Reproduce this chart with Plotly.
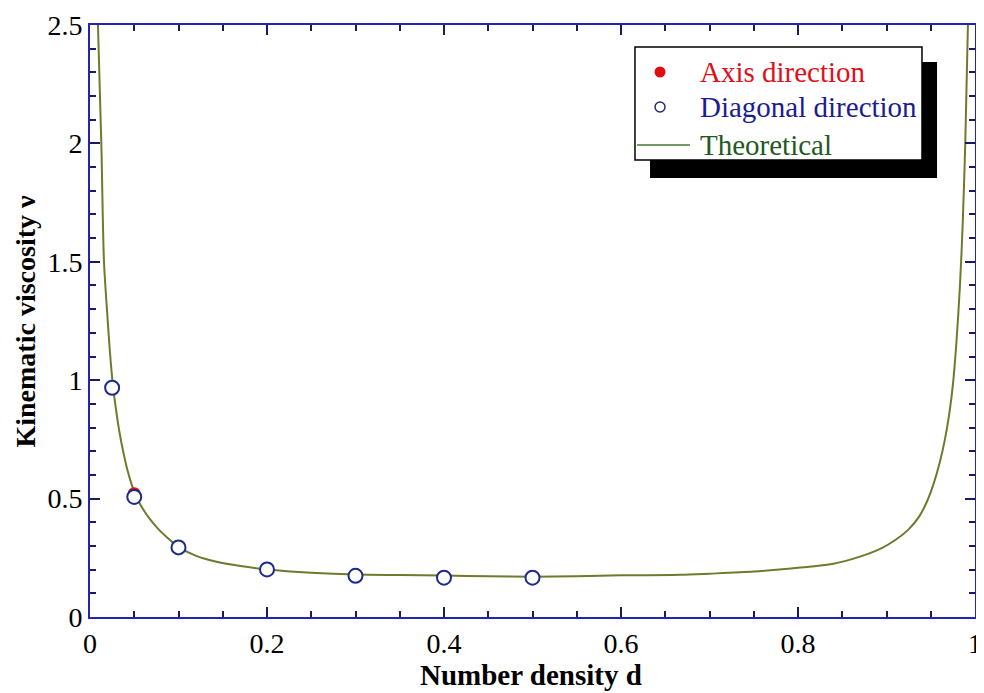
import plotly.graph_objects as go

# --- data ---
density_pts = [0.025, 0.05, 0.1, 0.2, 0.3, 0.4, 0.5]
axis_visc = [0.968, 0.521, 0.294, 0.201, 0.174, 0.166, 0.166]
diag_visc = [0.968, 0.507, 0.294, 0.201, 0.174, 0.166, 0.166]

theory_d = [0.009, 0.0128, 0.0158, 0.0195, 0.0225, 0.026, 0.030, 0.0336, 0.038,
            0.042, 0.047, 0.052, 0.060, 0.068, 0.077, 0.088, 0.100, 0.12, 0.143,
            0.17, 0.20, 0.25, 0.30, 0.35, 0.40, 0.45, 0.50, 0.55, 0.60, 0.667,
            0.70, 0.75, 0.80, 0.84, 0.87, 0.894, 0.91, 0.925, 0.937, 0.946,
            0.953, 0.960, 0.966, 0.971, 0.975, 0.979, 0.983, 0.986, 0.989, 0.992]
theory_v = [2.5, 2.0, 1.5, 1.28, 1.12, 0.975, 0.86, 0.774, 0.69,
            0.625, 0.56, 0.51, 0.455, 0.412, 0.372, 0.333, 0.296, 0.258, 0.233,
            0.215, 0.201, 0.187, 0.179, 0.177, 0.175, 0.172, 0.170, 0.172, 0.176, 0.178,
            0.183, 0.192, 0.208, 0.225, 0.255, 0.290, 0.325, 0.37, 0.425, 0.49,
            0.56, 0.65, 0.75, 0.86, 0.98, 1.16, 1.40, 1.65, 2.0, 2.5]

x_ticks = [0, 0.2, 0.4, 0.6, 0.8, 1]
x_tick_text = ["0", "0.2", "0.4", "0.6", "0.8", "1"]
y_ticks = [0, 0.5, 1, 1.5, 2, 2.5]
y_tick_text = ["0", "0.5", "1", "1.5", "2", "2.5"]

legend_labels = ["Axis direction", "Diagonal direction", "Theoretical"]
legend_colors = ["#e0101a", "#1c1c90", "#1f5a1f"]

AXIS_BLUE = "#2424b4"
LINE_COLOR = "#6f7a2e"
RED = "#e01010"
NAVY = "#1c2a8c"
TICK = "#1a1a60"
SERIF = "Liberation Serif"

fig = go.Figure()
fig.add_trace(go.Scatter(
    x=theory_d, y=theory_v, mode="lines",
    line=dict(color=LINE_COLOR, width=2, shape="spline", smoothing=0.8),
    name=legend_labels[2], showlegend=False))
fig.add_trace(go.Scatter(
    x=density_pts, y=axis_visc, mode="markers",
    marker=dict(color=RED, size=13, line=dict(color=RED, width=0)),
    name=legend_labels[0], showlegend=False))
fig.add_trace(go.Scatter(
    x=density_pts, y=diag_visc, mode="markers",
    marker=dict(color="white", size=14, line=dict(color=NAVY, width=2)),
    name=legend_labels[1], showlegend=False))

axis_common = dict(
    showline=True, linecolor=AXIS_BLUE, linewidth=2, mirror="allticks",
    ticks="inside", ticklen=10, tickwidth=2, tickcolor=TICK,
    showgrid=False, zeroline=False, automargin=False,
    tickfont=dict(family=SERIF, size=28, color="black"),
)

fig.update_xaxes(
    range=[0, 1], tickvals=x_ticks, ticktext=x_tick_text,
    minor=dict(dtick=0.05, ticks="inside", ticklen=6, tickwidth=1.5, tickcolor=TICK),
    **axis_common)
fig.update_yaxes(
    range=[0, 2.5], tickvals=y_ticks, ticktext=y_tick_text,
    minor=dict(dtick=0.1, ticks="inside", ticklen=6, tickwidth=1.5, tickcolor=TICK),
    **axis_common)

# axis titles
fig.add_annotation(text="<b>Number density d</b>", xref="paper", yref="paper",
                   x=0.498, y=-0.098, xanchor="center", yanchor="middle", showarrow=False,
                   font=dict(family=SERIF, size=29, color="black"))
fig.add_annotation(text="<b>Kinematic viscosity ν</b>", xref="paper", yref="paper",
                   x=-0.074, y=0.50, xanchor="center", yanchor="middle", showarrow=False,
                   textangle=-90, font=dict(family=SERIF, size=28, color="black"))

# legend: shadow, box, symbols, texts
fig.add_shape(type="rect", xref="paper", yref="paper",
              x0=0.6328, x1=0.9571, y0=0.7416, y1=0.9375,
              fillcolor="black", line=dict(width=0), layer="above")
fig.add_shape(type="rect", xref="paper", yref="paper",
              x0=0.6158, x1=0.9401, y0=0.7720, y1=0.9628,
              fillcolor="white", line=dict(color="black", width=1.5), layer="above")
fig.add_shape(type="circle", xref="paper", yref="paper",
              xsizemode="pixel", ysizemode="pixel", xanchor=0.6441, yanchor=0.9206,
              x0=-5.5, x1=5.5, y0=-5.5, y1=5.5,
              fillcolor=RED, line=dict(color=RED, width=0), layer="above")
fig.add_shape(type="circle", xref="paper", yref="paper",
              xsizemode="pixel", ysizemode="pixel", xanchor=0.6441, yanchor=0.8615,
              x0=-5, x1=5, y0=-5, y1=5,
              fillcolor="white", line=dict(color=NAVY, width=1.5), layer="above")
fig.add_shape(type="line", xref="paper", yref="paper",
              x0=0.6181, x1=0.6780, y0=0.7973, y1=0.7973,
              line=dict(color="#3f7a2e", width=1.5), layer="above")
for label, color, ypos in zip(legend_labels, legend_colors, [0.9206, 0.8615, 0.7973]):
    fig.add_annotation(text=label, xref="paper", yref="paper",
                       x=0.6870, y=ypos, xanchor="left", yanchor="middle", showarrow=False,
                       font=dict(family=SERIF, size=29, color=color))

fig.update_layout(
    width=976, height=685,
    margin=dict(l=82, r=9, t=17, b=76),
    paper_bgcolor="white", plot_bgcolor="white",
    font=dict(family=SERIF, color="black"),
    showlegend=False,
)

fig.write_html("out.html")
